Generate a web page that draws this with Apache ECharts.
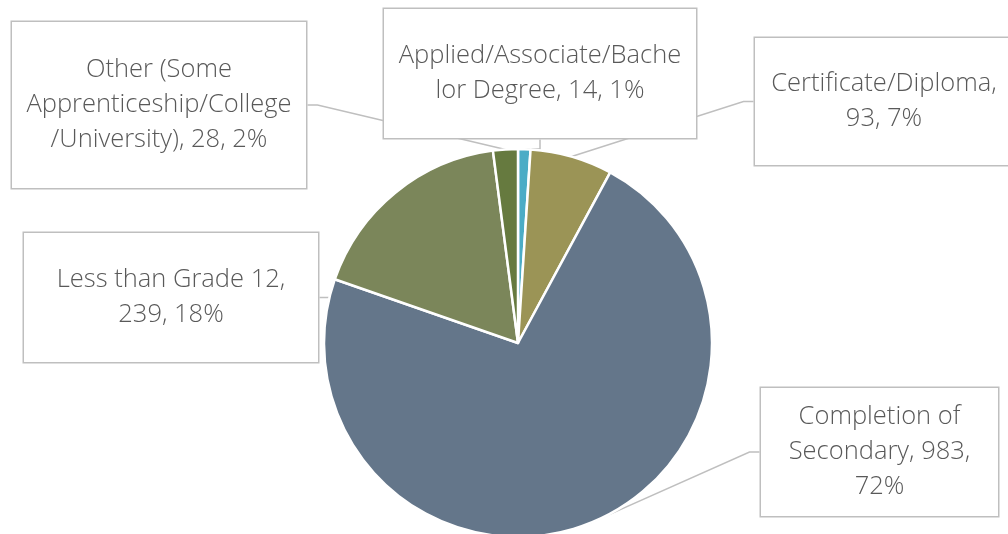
<!DOCTYPE html>
<html><head><meta charset="utf-8">
<script src="https://cdn.jsdelivr.net/npm/echarts@6/dist/echarts.min.js"></script>
<style>html,body{margin:0;padding:0;background:#fff}#c{width:1008px;height:534px}</style>
</head><body><div id="c"></div>
<script>
// Data
const categories = [
  'Applied/Associate/Bachelor Degree',
  'Certificate/Diploma',
  'Completion of Secondary',
  'Less than Grade 12',
  'Other (Some Apprenticeship/College/University)'
];
const values = [14, 93, 983, 239, 28];
// Label text templates ({c} = value, {d} = percent), wrapped as in the original
const labelFormats = [
  'Applied/Associate/Bache\nlor Degree, {c}, {d}%',
  'Certificate/Diploma,\n{c}, {d}%',
  'Completion of\nSecondary, {c},\n{d}%',
  'Less than Grade 12,\n{c}, {d}%',
  'Other (Some\nApprenticeship/College\n/University), {c}, {d}%'
];

// Styles / layout
const colors = ['#4bacc6', '#9b9456', '#64768a', '#7b865a', '#667a3f'];
const boxes = [
  {x: 384, y: 9,   w: 312, h: 129},
  {x: 755, y: 38,  w: 258, h: 127},
  {x: 761, y: 388, w: 237, h: 128},
  {x: 24,  y: 233, w: 294, h: 129},
  {x: 12,  y: 22,  w: 294, h: 166}
];
const LH = 35;

const chart = echarts.init(document.getElementById('c'), null, {renderer: 'canvas'});
const data = categories.map((name, i) => {
  const b = boxes[i];
  const lines = labelFormats[i].split('\n').length;
  const padV = (b.h - lines * LH) / 2;
  return {
    name, value: values[i],
    itemStyle: {color: colors[i]},
    label: {
      formatter: labelFormats[i],
      width: b.w,
      padding: [padV, 0, padV, 0]
    }
  };
});

chart.setOption({
  animation: false,
  series: [{
    type: 'pie',
    center: [518, 343],
    radius: 194,
    startAngle: 90,
    clockwise: true,
    percentPrecision: 0,
    avoidLabelOverlap: false,
    itemStyle: {borderColor: '#ffffff', borderWidth: 2.5},
    label: {
      show: true,
      position: 'outside',
      fontFamily: 'Open Sans',
      fontWeight: 300,
      fontSize: 25.5,
      lineHeight: LH,
      color: '#595959',
      align: 'center',
      backgroundColor: '#ffffff',
      borderColor: '#bfbfbf',
      borderWidth: 1.5
    },
    labelLine: {
      show: true,
      length: 10,
      length2: 10,
      lineStyle: {color: '#bfbfbf', width: 1.5}
    },
    labelLayout: function (p) {
      const b = boxes[p.dataIndex];
      return {x: b.x + b.w / 2, y: b.y + b.h / 2, align: 'center', verticalAlign: 'middle'};
    },
    data
  }]
});
</script></body></html>
